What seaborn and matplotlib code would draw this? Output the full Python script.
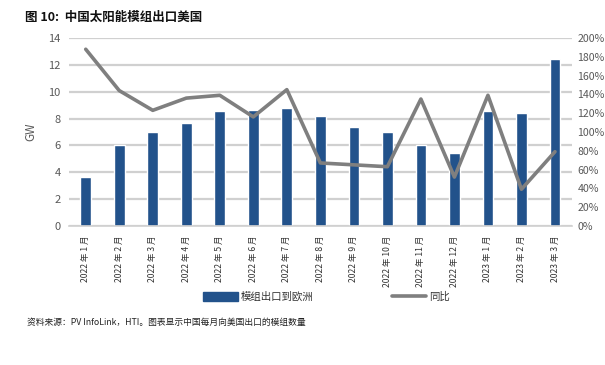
import numpy as np
import pandas as pd
import seaborn as sns
import matplotlib.pyplot as plt
from matplotlib.patches import Patch
from matplotlib.lines import Line2D

# data
months = ["2022 年 1 月", "2022 年 2 月", "2022 年 3 月", "2022 年 4 月", "2022 年 5 月",
          "2022 年 6 月", "2022 年 7 月", "2022 年 8 月", "2022 年 9 月", "2022 年 10 月",
          "2022 年 11 月", "2022 年 12 月", "2023 年 1 月", "2023 年 2 月", "2023 年 3 月"]
exports_gw = [3.65, 6.0, 7.02, 7.64, 8.59, 8.64, 8.76, 8.2, 7.4, 7.02, 6.0, 5.46, 8.56, 8.39, 12.4]
yoy_pct = [188, 144, 123, 136, 139, 116, 145, 67, 65, 63, 135, 52, 139, 39, 79]

bar_label = "模组出口到欧洲"
line_label = "同比"

sns.set_theme(style="white")
plt.rcParams['font.family'] = ['Noto Sans CJK SC', 'DejaVu Sans']

BLUE = "#22528b"
GREY = "#7f7f7f"
GRID = "#d0d0d0"
TXT = "#595959"

df = pd.DataFrame({"month": months, "gw": exports_gw, "yoy": yoy_pct, "pos": np.arange(len(months))})

fig = plt.figure(figsize=(6.05, 3.65), dpi=100)
ax = fig.add_axes([0.114, 0.381, 0.831, 0.515])

sns.barplot(data=df, x="month", y="gw", color=BLUE, width=0.32, ax=ax, zorder=2, saturation=1)
ax.set_ylim(0, 14)
ax.set_yticks(range(0, 15, 2))
ax.yaxis.grid(True, color=GRID, linewidth=1.6, zorder=0)
ax.set_axisbelow(True)
ax.set_xlim(-0.5, len(months) - 0.5)
ax.set_xlabel("")
ax.set_ylabel("GW", color=TXT, fontsize=8.5, labelpad=8)
ax.tick_params(axis="y", colors=TXT, labelsize=8, length=0, pad=6)
ax.set_xticks(np.arange(len(months)))
ax.set_xticklabels(months, rotation=90, fontsize=6.2, color="#333333")
ax.tick_params(axis="x", length=0, pad=7)
# small separators between categories
ax.set_xticks(np.arange(len(months) + 1) - 0.5, minor=True)
ax.tick_params(axis="x", which="minor", length=3, color=GRID, width=1)
for s in ["top", "right", "left"]:
    ax.spines[s].set_visible(False)
ax.spines["bottom"].set_color(GRID)
ax.spines["bottom"].set_linewidth(1.2)

ax2 = ax.twinx()
sns.lineplot(data=df, x="pos", y="yoy", color=GREY, linewidth=2.6, ax=ax2, zorder=3)
ax2.set_ylim(0, 200)
ax2.set_yticks(range(0, 201, 20))
ax2.set_yticklabels([f"{v}%" for v in range(0, 201, 20)])
ax2.tick_params(axis="y", colors=TXT, labelsize=7.6, length=0, pad=4)
ax2.set_ylabel("")
ax2.set_xlim(-0.5, len(months) - 0.5)
for s in ax2.spines.values():
    s.set_visible(False)

handles = [Patch(facecolor=BLUE, edgecolor=BLUE),
           Line2D([0], [0], color=GREY, linewidth=2.6)]
fig.legend(handles, [bar_label, line_label], loc="center", bbox_to_anchor=(0.54, 0.187),
           ncol=2, frameon=False, fontsize=7.5, handlelength=3.3, handleheight=0.9,
           columnspacing=7.5, handletextpad=0.3, labelcolor="#333333")

fig.text(0.041, 0.953, "图 10:  中国太阳能模组出口美国", fontsize=9, fontweight="bold",
         color="#111111", va="center")
fig.text(0.045, 0.118, "资料来源：PV InfoLink，HTI。图表显示中国每月向美国出口的模组数量",
         fontsize=6.3, color="#222222", va="center")

fig.savefig("out.png", dpi=100)
